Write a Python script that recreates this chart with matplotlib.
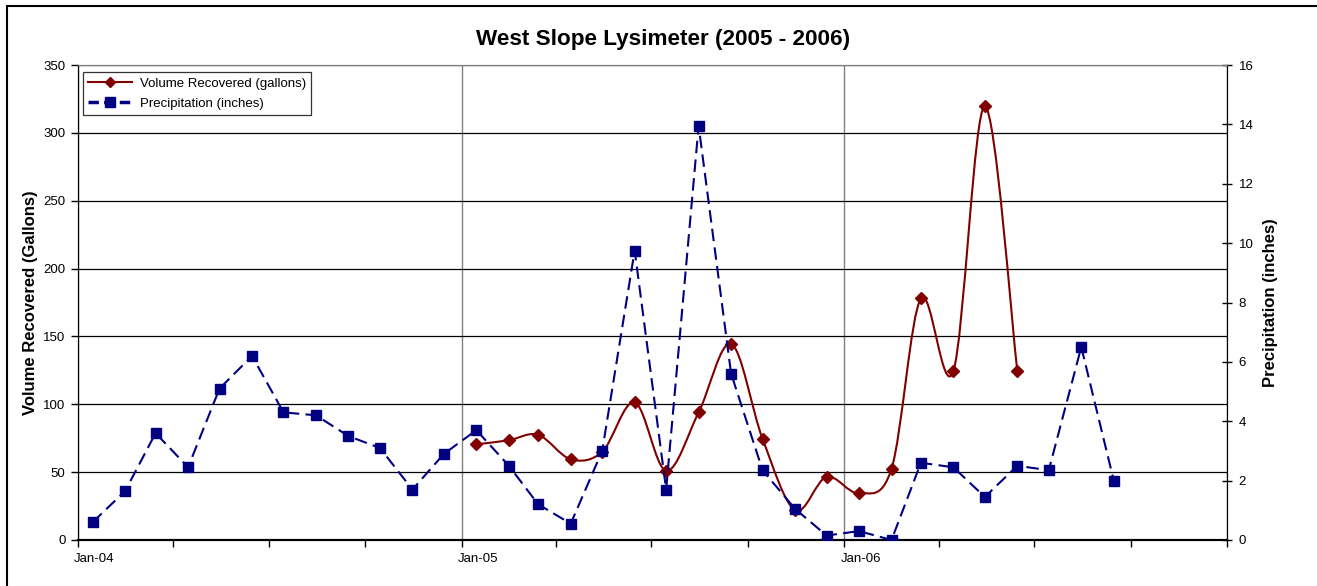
import numpy as np
import matplotlib
matplotlib.use("Agg")
import matplotlib.pyplot as plt
import matplotlib.dates as mdates
from matplotlib.path import Path
from matplotlib.patches import PathPatch, Rectangle
from matplotlib.lines import Line2D
import datetime as dt

plt.rcParams["font.family"] = ["Liberation Sans", "DejaVu Sans"]

# monthly readings, plotted mid-month
precip_start = (2004, 1)
precip_in = [0.6, 1.65, 3.6, 2.45, 5.1, 6.2, 4.3, 4.2, 3.5, 3.1, 1.7, 2.9,
             3.7, 2.5, 1.2, 0.55, 3.0, 9.75, 1.7, 13.95, 5.6, 2.35, 1.05, 0.15,
             0.3, 0.0, 2.6, 2.45, 1.45, 2.5, 2.35, 6.5, 2.0]

volume_start = (2005, 1)
volume_gal = [70.5, 73.5, 77.5, 59.5, 65, 101.5, 51, 94, 144.5, 74.5, 22, 46.5,
              34.5, 52.5, 178, 124.5, 319.5, 124.5]

year_ticks = [dt.date(2004, 1, 1), dt.date(2005, 1, 1), dt.date(2006, 1, 1), dt.date(2007, 1, 1)]
year_labels = ["Jan-04", "Jan-05", "Jan-06", ""]

VOL_COLOR = "#800000"
PRE_COLOR = "#000080"


def month_dates(start, n):
    y, m = start
    out = []
    for i in range(n):
        mm = m - 1 + i
        out.append(dt.date(y + mm // 12, mm % 12 + 1, 15))
    return mdates.date2num(out)


def smooth_path(x, y):
    # excel-style smoothed line: cubic bezier, catmull-rom control points
    pts = np.column_stack([x, y])
    n = len(pts)
    verts = [pts[0]]
    codes = [Path.MOVETO]
    for i in range(n - 1):
        p0 = pts[i - 1] if i > 0 else pts[i]
        p1, p2 = pts[i], pts[i + 1]
        p3 = pts[i + 2] if i + 2 < n else pts[i + 1]
        verts += [p1 + (p2 - p0) / 6, p2 - (p3 - p1) / 6, p2]
        codes += [Path.CURVE4] * 3
    return Path(verts, codes)


x_pre = month_dates(precip_start, len(precip_in))
x_vol = month_dates(volume_start, len(volume_gal))

fig = plt.figure(figsize=(13.17, 5.86), dpi=100)
ax = fig.add_axes([78 / 1317, 1 - 540 / 586, (1227 - 78) / 1317, (540 - 65) / 586])
ax2 = ax.twinx()

# volume, smoothed solid line + diamonds
ax.add_patch(PathPatch(smooth_path(x_vol, volume_gal), fill=False,
                       ec=VOL_COLOR, lw=1.5, zorder=3))
ax.plot(x_vol, volume_gal, ls="none", marker="D", ms=6, color=VOL_COLOR, zorder=4)

# precipitation on secondary axis, dashed
pl, = ax2.plot(x_pre, precip_in, color=PRE_COLOR, lw=1.5, marker="s", ms=6.5,
               zorder=5)
pl.set_dashes([6, 3])

ax.set_xlim(mdates.date2num(year_ticks[0]), mdates.date2num(year_ticks[-1]))
ax.set_ylim(0, 350)
ax.set_yticks(np.arange(0, 351, 50))
ax2.set_ylim(0, 16)
ax2.set_yticks(np.arange(0, 17, 2))

# excel centres the date labels on the month, not on the tick
ax.set_xticks(mdates.date2num(year_ticks), labels=[""] * len(year_ticks))
ax.xaxis.set_minor_locator(mdates.MonthLocator(bymonth=[4, 7, 10]))
for d, lab in zip(year_ticks, year_labels):
    ax.text(mdates.date2num(d) + 15.5, -0.04, lab, transform=ax.get_xaxis_transform(),
            ha="center", va="center", fontsize=9.5)

ax.tick_params(axis="x", which="both", direction="out", length=5, width=1,
               labelsize=9.5, pad=8)
ax.tick_params(axis="y", direction="out", length=5, width=1, labelsize=9.5, pad=4)
ax2.tick_params(axis="y", direction="inout", length=7, width=1, labelsize=9.5, pad=5)

ax.yaxis.grid(True, color="black", lw=0.9)
ax.xaxis.grid(True, which="major", color="#808080", lw=1)
ax.set_axisbelow(True)

for a in (ax, ax2):
    a.spines["top"].set_color("#808080")
    a.spines["left"].set_color("black")
    a.spines["bottom"].set_color("black")
    a.spines["right"].set_color("black")
    a.spines["bottom"].set_linewidth(1.5)

ax.set_ylabel("Volume Recovered (Gallons)", fontsize=12, fontweight="bold", labelpad=4)
ax2.set_ylabel("Precipitation (inches)", fontsize=12, fontweight="bold", labelpad=7)

fig.text(663 / 1317, 1 - 40 / 586, "West Slope Lysimeter (2005 - 2006)",
         ha="center", va="center", fontsize=16.2, fontweight="bold")

handles = [
    Line2D([], [], color=VOL_COLOR, lw=1.5, marker="D", ms=5.5),
    Line2D([], [], color=PRE_COLOR, lw=2.5, marker="s", ms=6.5, dashes=[3, 1.5]),
]
leg = ax2.legend(handles, ["Volume Recovered (gallons)", "Precipitation (inches)"],
                 loc="upper left", bbox_to_anchor=(5 / 1149, 1 - 7 / 475),
                 borderaxespad=0, fontsize=9.5,
                 frameon=True, fancybox=False, edgecolor="black",
                 handlelength=3.3, borderpad=0.4, labelspacing=0.6,
                 handletextpad=0.6)
leg.get_frame().set_linewidth(0.9)

# outer chart border (right and bottom edges fall outside the image)
fig.patches.append(Rectangle((7 / 1317, -0.2), 2, 1.2 - 6 / 586,
                             transform=fig.transFigure, fill=False,
                             ec="black", lw=1.5))

fig.savefig("out.png", dpi=100)
